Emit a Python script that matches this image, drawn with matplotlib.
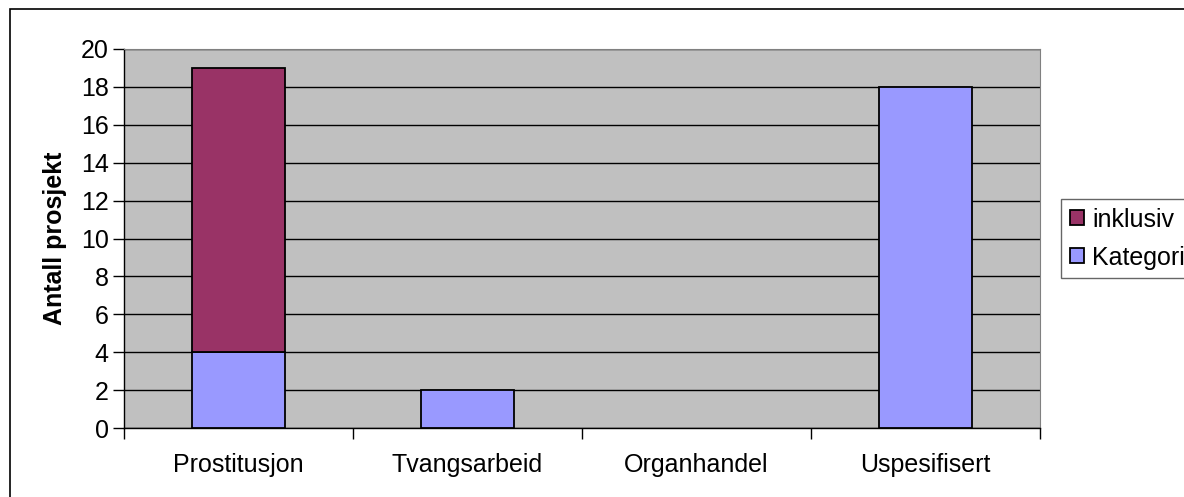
import matplotlib
matplotlib.use("Agg")
import matplotlib.pyplot as plt
from matplotlib.patches import Rectangle
import numpy as np

# data
kategorier = ["Prostitusjon", "Tvangsarbeid", "Organhandel", "Uspesifisert"]
kategori = [4, 2, 0, 18]
inklusiv = [15, 0, 0, 0]
y_ticks = [0, 2, 4, 6, 8, 10, 12, 14, 16, 18, 20]

plt.rcParams['font.family'] = ['Liberation Sans', 'DejaVu Sans']
FS = 18

W, H = 1184, 497
fig = plt.figure(figsize=(W / 100, H / 100), dpi=100)
ax = fig.add_axes([124 / W, 1 - 428 / H, (1040 - 124) / W, (428 - 49) / H])
ax.set_facecolor('#C0C0C0')

x = np.arange(len(kategorier))
bw = 0.41
kat = np.array(kategori, dtype=float)
ink = np.array(inklusiv, dtype=float)
# nullverdier tegnes ikke
kat_vis = np.where(kat > 0, kat, np.nan)
ink_vis = np.where(ink > 0, ink, np.nan)
ax.bar(x, kat_vis, bw, color='#9999FF', edgecolor='black', linewidth=1.3,
       label='Kategori', zorder=3)
ax.bar(x, ink_vis, bw, bottom=kat, color='#993366', edgecolor='black',
       linewidth=1.3, label='inklusiv', zorder=3)

ax.set_xlim(-0.5, len(kategorier) - 0.5)
ax.set_ylim(0, 20)
ax.set_yticks(y_ticks)
ax.set_yticklabels([str(v) for v in y_ticks], fontsize=FS)
ax.yaxis.grid(True, color='black', linewidth=1.0, zorder=1)
ax.set_axisbelow(True)

# kategori-etiketter mellom tick-merkene
ax.set_xticks(np.arange(len(kategorier) + 1) - 0.5)
ax.set_xticklabels([])
ax.set_xticks(x, minor=True)
ax.set_xticklabels(kategorier, minor=True, fontsize=FS)
ax.tick_params(axis='x', which='minor', length=0, pad=18)
ax.tick_params(axis='x', which='major', length=8, width=1, direction='out')
ax.tick_params(axis='y', length=8, width=1, direction='out', pad=3)

ax.set_ylabel('Antall prosjekt', fontsize=FS, fontweight='bold', labelpad=10)

for s in ['top', 'right']:
    ax.spines[s].set_color('#808080')
for s in ['left', 'bottom']:
    ax.spines[s].set_color('black')
    ax.spines[s].set_linewidth(1.0)

# ytre ramme
fig.patches.append(Rectangle((10 / W, -0.2), 1.2, 1.2 - 9 / H, transform=fig.transFigure,
                             fill=False, edgecolor='black', linewidth=1.2))

handles, labels = ax.get_legend_handles_labels()
leg = fig.legend(handles[::-1], labels[::-1], loc='upper left',
                 bbox_to_anchor=(1061 / W, 1 - 199 / H), fontsize=FS,
                 frameon=True, fancybox=False, edgecolor='#404040',
                 handlelength=0.55, handleheight=0.55, handletextpad=0.35,
                 borderpad=0.35, labelspacing=0.55, borderaxespad=0)
leg.get_frame().set_linewidth(1.0)

fig.savefig('out.png', dpi=100)
